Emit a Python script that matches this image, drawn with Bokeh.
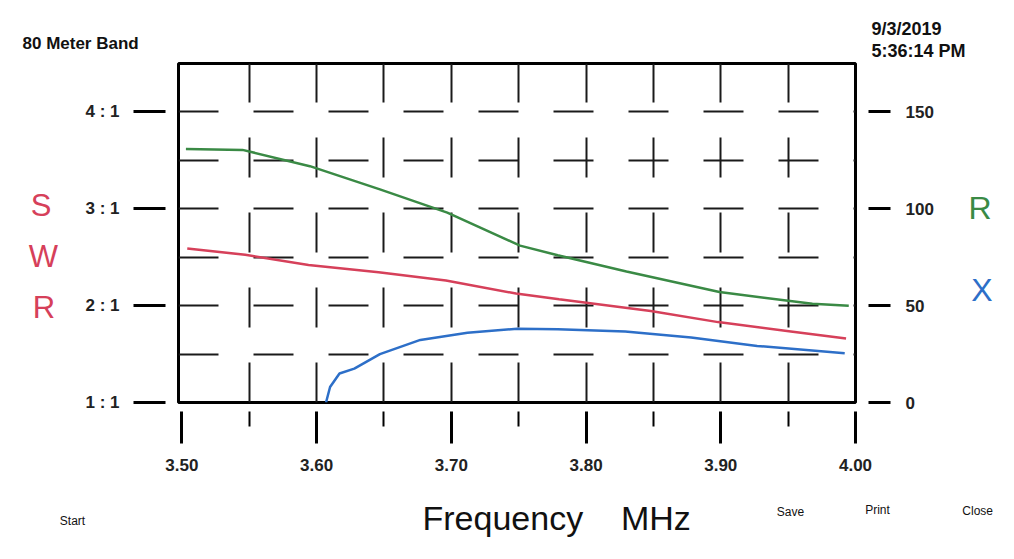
from bokeh.plotting import figure
from bokeh.models import (Range1d, LinearAxis, FixedTicker, Grid, Label,
                          PrintfTickFormatter)
from bokeh.embed import file_html
from bokeh.resources import INLINE

# ---- data ----
freq_r = [3.503, 3.545, 3.595, 3.647, 3.697, 3.751, 3.779, 3.830, 3.899, 3.968, 3.995]
r_vals = [130.9, 130.4, 122.0, 110.0, 98.0, 81.0, 76.0, 67.6, 57.0, 51.0, 50.0]

freq_swr = [3.504, 3.547, 3.594, 3.646, 3.696, 3.748, 3.780, 3.848, 3.898, 3.952, 3.993]
swr_vals = [2.59, 2.525, 2.42, 2.345, 2.26, 2.125, 2.065, 1.944, 1.83, 1.734, 1.66]

freq_x = [3.607, 3.610, 3.617, 3.628, 3.647, 3.677, 3.712, 3.749, 3.779, 3.829, 3.878, 3.927, 3.992]
x_vals = [0.0, 8.0, 15.0, 17.5, 25.0, 32.3, 36.0, 38.1, 37.8, 36.6, 33.5, 29.2, 25.4]

freq_ticks = [3.50, 3.60, 3.70, 3.80, 3.90, 4.00]
freq_minor = [3.55, 3.65, 3.75, 3.85, 3.95]
freq_grid = [3.55, 3.60, 3.65, 3.70, 3.75, 3.80, 3.85, 3.90, 3.95]
swr_ticks = [1, 2, 3, 4]
swr_labels = ["1 : 1", "2 : 1", "3 : 1", "4 : 1"]
swr_grid = [1.5, 2.0, 2.5, 3.0, 3.5, 4.0]
rx_ticks = [0, 50, 100, 150]

title_text = "80 Meter Band"
date_text = "9/3/2019"
time_text = "5:36:14 PM"
xlabel_text = "Frequency\u00a0\u00a0\u00a0\u00a0MHz"
buttons = ["Start", "Save", "Print", "Close"]

GREEN = "#3a8a45"
RED = "#d6405a"
BLUE = "#2d6fc8"
FONT = "Liberation Sans"

W, H = 1012, 557
FL, FR, FT, FB = 178, 855, 63, 402   # frame edges in canvas pixels

p = figure(width=W, height=H,
           x_range=Range1d(3.4975, 4.0), y_range=Range1d(1, 4.5),
           x_axis_type=None, y_axis_type=None,
           output_backend="svg", toolbar_location=None,
           min_border_left=FL, min_border_right=W - FR,
           min_border_top=FT, min_border_bottom=H - FB)
p.extra_y_ranges = {"rx": Range1d(0, 175)}
p.outline_line_color = "black"
p.outline_line_width = 3
p.background_fill_color = "white"
p.border_fill_color = "white"

# grids (broken, dashed look of the printout)
p.add_layout(Grid(dimension=0, ticker=FixedTicker(ticks=freq_grid),
                  grid_line_color="#1a1a1a", grid_line_width=2, grid_line_dash="40 35"))
p.add_layout(Grid(dimension=1, ticker=FixedTicker(ticks=swr_grid),
                  grid_line_color="#1a1a1a", grid_line_width=2, grid_line_dash="40 35"))

def style_axis(ax):
    ax.major_label_text_font = FONT
    ax.major_label_text_font_style = "bold"
    ax.major_label_text_font_size = "17px"
    ax.major_label_text_color = "#222222"
    ax.axis_line_color = None
    ax.major_tick_line_color = "black"
    ax.major_tick_line_width = 3

left = LinearAxis(ticker=FixedTicker(ticks=swr_ticks),
                  major_label_overrides={t: l for t, l in zip(swr_ticks, swr_labels)})
style_axis(left)
left.major_tick_in = -13
left.major_tick_out = 45
left.minor_tick_line_color = None
left.major_label_standoff = 14
p.add_layout(left, "left")

right = LinearAxis(y_range_name="rx", ticker=FixedTicker(ticks=rx_ticks))
style_axis(right)
right.major_tick_in = -13
right.major_tick_out = 35
right.minor_tick_line_color = None
right.major_label_standoff = 15
p.add_layout(right, "right")

bottom = LinearAxis(ticker=FixedTicker(ticks=freq_ticks, minor_ticks=freq_minor),
                    formatter=PrintfTickFormatter(format="%.2f"))
style_axis(bottom)
bottom.major_tick_in = -9
bottom.major_tick_out = 41
bottom.minor_tick_in = -9
bottom.minor_tick_out = 24
bottom.minor_tick_line_color = "black"
bottom.minor_tick_line_width = 2
bottom.major_label_standoff = 15
p.add_layout(bottom, "below")

# curves
p.line(freq_r, r_vals, y_range_name="rx", line_color=GREEN, line_width=2.5)
p.line(freq_swr, swr_vals, line_color=RED, line_width=2.5)
p.line(freq_x, x_vals, y_range_name="rx", line_color=BLUE, line_width=2.5)

# ---- texts placed in side panels (each label gets its own stacked slot) ----
# estimated slot sizes (px) of the axes; used to turn canvas positions into offsets
AX_LEFT_W, AX_RIGHT_W, AX_BOTTOM_H = 93, 78.4, 75
slot = {"left": FL - AX_LEFT_W, "right": FR + AX_RIGHT_W, "above": FT, "below": FB + AX_BOTTOM_H}

def put(side, cx, cy, text, size, extent, color="#111111", style="normal", align="center"):
    """cx, cy: wanted canvas position of the text anchor; extent: slot size of this label."""
    if side == "left":
        right_edge = slot["left"]; left_edge = right_edge - extent
        slot["left"] = left_edge
        x, y = cx - left_edge, FB - cy
    elif side == "right":
        left_edge = slot["right"]; slot["right"] = left_edge + extent
        x, y = cx - left_edge, FB - cy
    elif side == "above":
        bottom_edge = slot["above"]; slot["above"] = bottom_edge - extent
        x, y = cx - FL, bottom_edge - cy
    else:
        top_edge = slot["below"]; bottom_edge = top_edge + extent
        slot["below"] = bottom_edge
        x, y = cx - FL, bottom_edge - cy
    p.add_layout(Label(x=x, y=y, x_units="screen", y_units="screen", text=text,
                       text_font=FONT, text_font_size=size, text_color=color,
                       text_font_style=style, text_align=align,
                       text_baseline="middle"), side)

# top
put("above", 22, 43, title_text, "17px", 19.0, style="bold", align="left")
put("above", 871, 50, time_text, "18px", 20.1, style="bold", align="left")
put("above", 871, 28, date_text, "18px", 20.1, style="bold", align="left")
# left S W R
put("left", 44, 205, "S", "31px", 20.7, color=RED)
put("left", 46, 256, "W", "31px", 29.3, color=RED)
put("left", 46, 307, "R", "31px", 22.4, color=RED)
# right R / X
put("right", 977, 207, "R", "32px", 23.1, color=GREEN)
put("right", 979, 289, "X", "32px", 21.3, color=BLUE)
put("right", 975, 510, buttons[3], "12px", 30.7)
# bottom
put("below", 422, 521, xlabel_text, "34px", 38.0, align="left")
put("below", 72, 524, buttons[0], "12px", 13.4)
put("below", 790, 514, buttons[1], "12px", 13.4)
put("below", 877, 512, buttons[2], "12px", 13.4)

open("out.html", "w").write(file_html(p, INLINE))
